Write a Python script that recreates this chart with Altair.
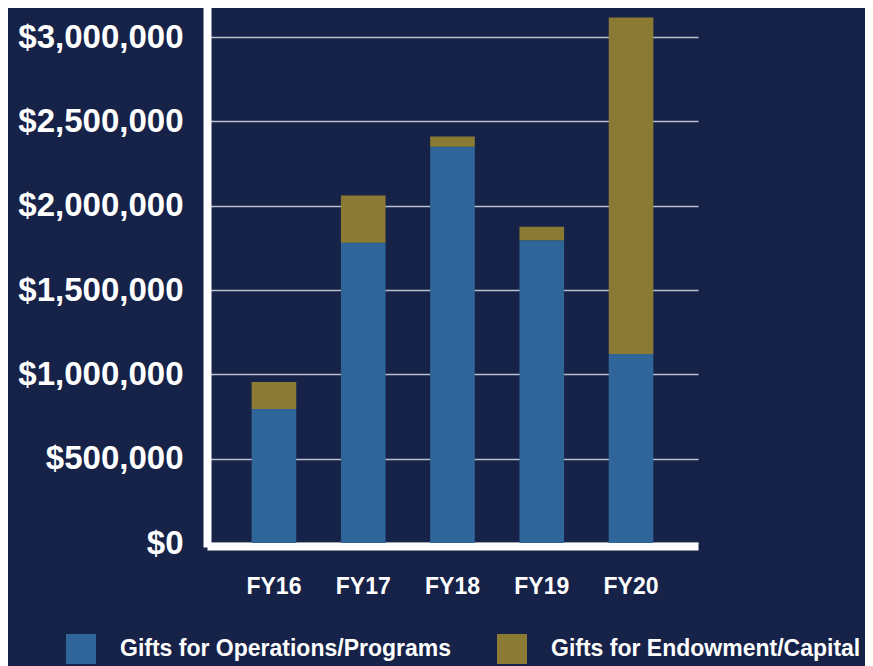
import altair as alt
import pandas as pd

years = ["FY16", "FY17", "FY18", "FY19", "FY20"]
series = ["Gifts for Operations/Programs", "Gifts for Endowment/Capital"]
ops = [795000, 1780000, 2350000, 1795000, 1120000]
endow = [160000, 280000, 60000, 80000, 1995000]
colors = ["#2F6599", "#8A7A33"]
y_ticks = [0, 500000, 1000000, 1500000, 2000000, 2500000, 3000000]

rows = []
for i, yr in enumerate(years):
    rows.append({"year": yr, "series": series[0], "value": ops[i], "order": 0})
    rows.append({"year": yr, "series": series[1], "value": endow[i], "order": 1})
df = pd.DataFrame(rows)

FONT = "Liberation Sans"

chart = alt.Chart(df).mark_bar().encode(
    x=alt.X(
        "year:N",
        sort=years,
        scale=alt.Scale(paddingInner=0.5, paddingOuter=0.5),
        axis=alt.Axis(
            title=None, labelAngle=0, labelFont=FONT, labelFontSize=23,
            labelFontWeight="bold", labelColor="white", domainColor="white",
            domainWidth=8, ticks=False, tickSize=0, labelPadding=29, offset=3,
            grid=False,
        ),
    ),
    y=alt.Y(
        "value:Q",
        stack="zero",
        scale=alt.Scale(domain=[0, 3172000], nice=False),
        axis=alt.Axis(
            title=None, values=y_ticks, format="$,.0f", labelFont=FONT,
            labelFontSize=33, labelFontWeight="bold", labelColor="white",
            grid=True, gridColor="#BCC0CC", gridWidth=1.5,
            domainColor="white", domainWidth=8, domainCap="square",
            ticks=False, tickSize=0, labelPadding=24,
        ),
    ),
    color=alt.Color(
        "series:N",
        scale=alt.Scale(domain=series, range=colors),
        legend=alt.Legend(
            title=None, orient="none", legendX=-141, legendY=626,
            direction="horizontal", columns=2, symbolType="square",
            symbolSize=900, symbolStrokeWidth=0, labelFont=FONT,
            labelFontSize=23, labelFontWeight="bold", labelColor="white",
            labelOffset=24, columnPadding=45, padding=0, labelLimit=500,
        ),
    ),
    order=alt.Order("order:Q"),
).properties(
    width=491,
    height=535,
    background="#162248",
    padding={"left": 199, "top": 0, "right": 167, "bottom": 123},
    autosize=alt.AutoSizeParams(type="none"),
).configure_view(stroke=None)

chart.save("out.html", embed_options={"renderer": "svg", "actions": False})
